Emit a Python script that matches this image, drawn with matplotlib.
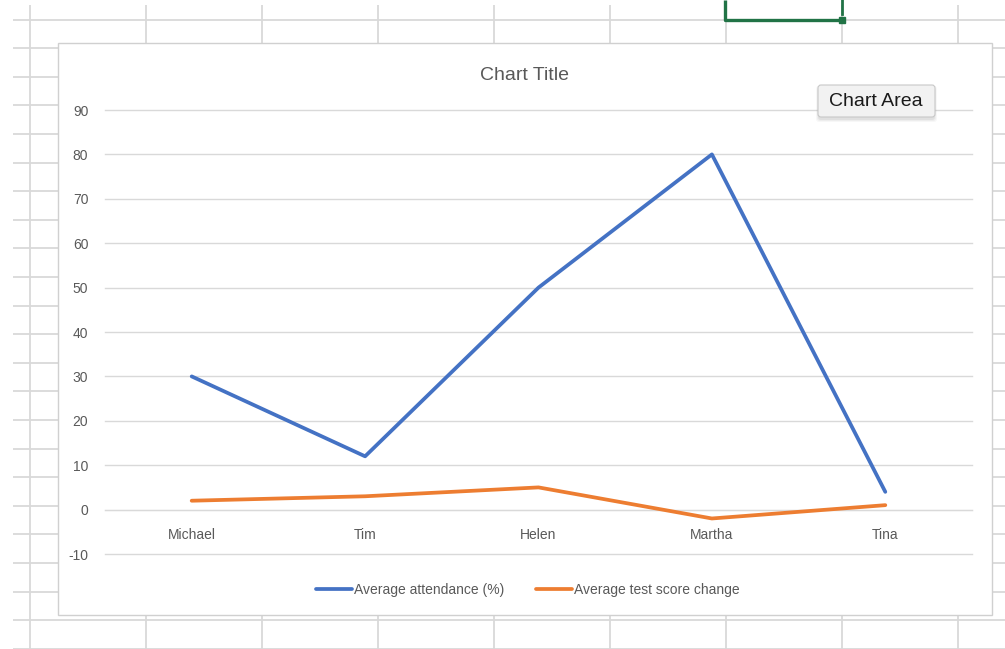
import numpy as np
import matplotlib.pyplot as plt
from matplotlib.patches import Rectangle, FancyBboxPatch

plt.rcParams['font.family'] = ['Liberation Sans', 'DejaVu Sans']
plt.rcParams['axes.unicode_minus'] = False

# data
students = ["Michael", "Tim", "Helen", "Martha", "Tina"]
attendance = [30, 12, 50, 80, 4]
score_change = [2, 3, 5, -2, 1]
y_ticks = list(range(-10, 100, 10))

W, H = 1005, 649
fig = plt.figure(figsize=(W / 100, H / 100), dpi=100)

#----------------------------------
# spreadsheet behind the chart
#----------------------------------
bg = fig.add_axes([0, 0, 1, 1])
bg.set_xlim(0, W)
bg.set_ylim(H, 0)
bg.axis("off")

cell_grey = "#d9d9d9"
cols = np.arange(30, W, 116)
rows = np.arange(19.6, H + 1, 28.6)
bg.vlines(cols, 5, H, color=cell_grey, lw=1.3, zorder=1)
bg.hlines(rows, 13, W, color=cell_grey, lw=1.3, zorder=1)

# selected cell outline
green = "#217346"
bg.plot([725, 725, 840], [0, 20, 20], color=green, lw=2.4, zorder=2, solid_capstyle="butt")
bg.plot([842, 842], [0, 14], color=green, lw=2.0, zorder=2)
bg.plot([842], [20], marker="s", ms=5, color=green, zorder=3)

# chart area
bg.add_patch(Rectangle((58, 43), 934, 572, facecolor="white",
                       edgecolor="#d0d0d0", lw=1.0, zorder=4))

#----------------------------------
# the line chart
#----------------------------------
left, right, top, bottom = 105, 972, 110, 554
ax = fig.add_axes([left / W, 1 - bottom / H, (right - left) / W, (bottom - top) / H])
ax.set_zorder(5)
ax.patch.set_alpha(0)

x = np.arange(len(students))
ax.plot(x, attendance, color="#4472C4", lw=2.7, label="Average attendance (%)",
        solid_joinstyle="round", solid_capstyle="round")
ax.plot(x, score_change, color="#ED7D31", lw=2.7, label="Average test score change",
        solid_joinstyle="round", solid_capstyle="round")

ax.set_xlim(-0.5, len(students) - 0.5)
ax.set_ylim(-10, 90)
ax.set_yticks(y_ticks)
ax.grid(axis="y", color="#d9d9d9", lw=1.0)
for gl in ax.get_ygridlines():
    gl.set_clip_on(False)
ax.set_axisbelow(True)

for s in ["top", "right", "left"]:
    ax.spines[s].set_visible(False)
ax.spines["bottom"].set_position(("data", 0))
ax.spines["bottom"].set_color("#d9d9d9")
ax.spines["bottom"].set_zorder(0)

ax.set_xticks(x)
ax.set_xticklabels(students)
ax.tick_params(axis="x", length=0, pad=13, labelsize=10, labelcolor="#595959")
ax.tick_params(axis="y", length=0, pad=12, labelsize=10, labelcolor="#595959")

fig.text(525 / W, 1 - 76 / H, "Chart Title", ha="center", va="center",
         fontsize=14, color="#595959", zorder=6)

leg = fig.legend(loc="center", bbox_to_anchor=(528 / W, 1 - 590 / H), ncol=2,
                 frameon=False, fontsize=10, handlelength=2.6, handletextpad=0.15,
                 columnspacing=2.3)
for t in leg.get_texts():
    t.set_color("#595959")

#----------------------------------
# hover tooltip
#----------------------------------
bg2 = fig.add_axes([0, 0, 1, 1])
bg2.set_xlim(0, W)
bg2.set_ylim(H, 0)
bg2.axis("off")
bg2.set_zorder(7)
for i, a in enumerate([0.05, 0.04, 0.03]):
    bg2.add_patch(FancyBboxPatch((818 - i, 86 - i + 2), 117 + 2 * i, 32 + 2 * i,
                                 boxstyle="round,pad=0,rounding_size=3",
                                 facecolor="black", alpha=a, lw=0))
bg2.add_patch(FancyBboxPatch((818, 85), 117, 32, boxstyle="round,pad=0,rounding_size=3",
                             facecolor="#f2f2f2", edgecolor="#c8c8c8", lw=0.8))
bg2.text(876, 101.5, "Chart Area", ha="center", va="center", fontsize=14, color="#1a1a1a")

fig.savefig("out.png", dpi=100)
